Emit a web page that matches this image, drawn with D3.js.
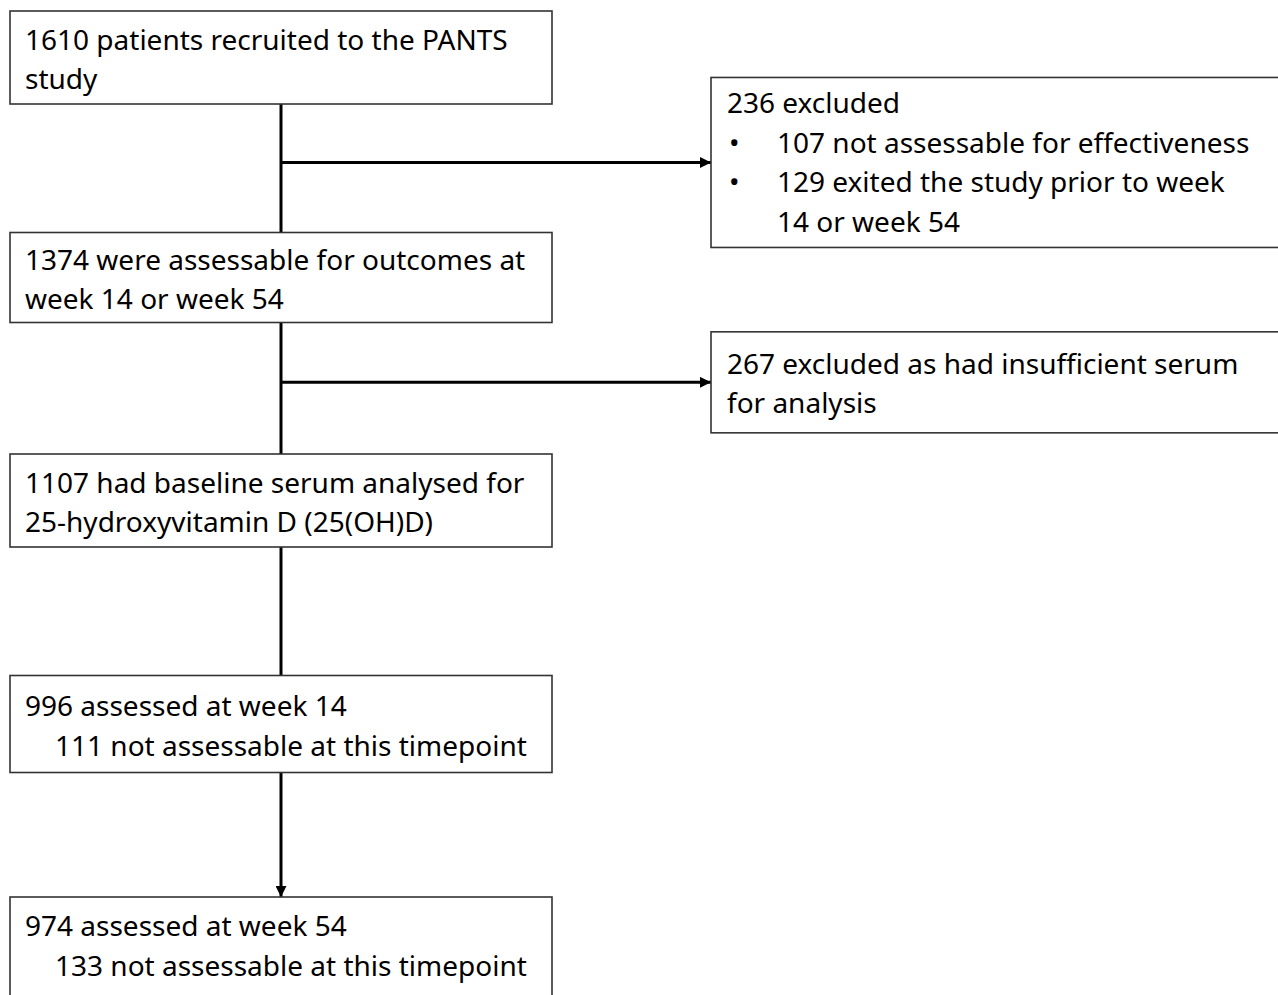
<!DOCTYPE html>
<html>
<head>
<meta charset="utf-8">
<title>PANTS flow</title>
<script src="https://d3js.org/d3.v7.min.js"></script>
<style>
  body { margin: 0; background: #fff; }
  text { font-family: "Noto Sans", "Open Sans", sans-serif; fill: #000; }
  .box { fill: #fff; stroke: #333; stroke-width: 1.6px; }
  .link { stroke: #000; stroke-width: 3px; fill: none; }
</style>
</head>
<body>
<svg id="chart" width="1278" height="995"></svg>
<script>
// main flow steps (left column)
var stepCounts = [1610, 1374, 1107, 996, 974];
var stepLines = [
  [{t: "1610 patients recruited to the PANTS"}, {t: "study"}],
  [{t: "1374 were assessable for outcomes at"}, {t: "week 14 or week 54"}],
  [{t: "1107 had baseline serum analysed for"}, {t: "25-hydroxyvitamin D (25(OH)D)"}],
  [{t: "996 assessed at week 14"}, {t: "111 not assessable at this timepoint", ind: true}],
  [{t: "974 assessed at week 54"}, {t: "133 not assessable at this timepoint", ind: true}]
];
// exclusions (right column), attached after step index
var exclAfter = [0, 1];
var exclCounts = [236, 267];
var exclLines = [
  [{t: "236 excluded"}, {t: "107 not assessable for effectiveness", b: true}, {t: "129 exited the study prior to week", b: true}, {t: "14 or week 54", ind: true}],
  [{t: "267 excluded as had insufficient serum"}, {t: "for analysis"}]
];

var svg = d3.select("#chart");
var fs = 28, lh = 39.5;

var boxL = 10, boxR = 552, cx = (boxL + boxR) / 2;
var y = d3.scaleLinear().domain([0, stepLines.length - 1]).range([11, 897]);
var boxH = [93, 90, 93, 97, 101];
var exL = 711, exR = 1290;
var exH = [170, 101], exPad = [36, 42];

var defs = svg.append("defs");
defs.append("marker")
  .attr("id", "arr").attr("viewBox", "0 0 10 10")
  .attr("refX", 10).attr("refY", 5)
  .attr("markerUnits", "userSpaceOnUse")
  .attr("markerWidth", 13).attr("markerHeight", 11)
  .attr("orient", "auto")
  .append("path").attr("d", "M0,0L10,5L0,10Z").attr("fill", "#000");

// vertical connectors
stepLines.forEach(function(d, i) {
  if (i === 0) return;
  svg.append("line").attr("class", "link")
    .attr("x1", cx).attr("x2", cx)
    .attr("y1", y(i - 1) + boxH[i - 1]).attr("y2", y(i))
    .attr("marker-end", i === stepLines.length - 1 ? "url(#arr)" : null);
});

// exclusion arrows + boxes
exclLines.forEach(function(lines, k) {
  var i = exclAfter[k];
  var bot = y(i) + boxH[i];
  var ay = bot + 0.455 * (y(i + 1) - bot);
  svg.append("line").attr("class", "link")
    .attr("x1", cx).attr("x2", exL)
    .attr("y1", ay).attr("y2", ay)
    .attr("marker-end", "url(#arr)");
  var h = exH[k];
  var top = ay - h / 2;
  svg.append("rect").attr("class", "box")
    .attr("x", exL).attr("y", top).attr("width", exR - exL).attr("height", h);
  var g = svg.append("g");
  lines.forEach(function(l, j) {
    var by = top + exPad[k] + j * lh;
    if (l.b) {
      g.append("text").attr("x", exL + 18).attr("y", by).attr("font-size", fs).text("\u2022");
    }
    g.append("text")
      .attr("x", (l.b || l.ind) ? exL + 66 : exL + 16)
      .attr("y", by)
      .attr("font-size", fs)
      .text(l.t);
  });
});

// main boxes, text block roughly centred
stepLines.forEach(function(lines, i) {
  var mid = y(i) + boxH[i] / 2;
  if (i === stepLines.length - 1) mid = y(i) + 47;
  svg.append("rect").attr("class", "box")
    .attr("x", boxL).attr("y", y(i)).attr("width", boxR - boxL).attr("height", boxH[i]);
  lines.forEach(function(l, j) {
    svg.append("text")
      .attr("x", l.ind ? boxL + 45 : boxL + 15)
      .attr("y", mid - 7.75 + j * lh)
      .attr("font-size", fs)
      .text(l.t);
  });
});
</script>
</body>
</html>
